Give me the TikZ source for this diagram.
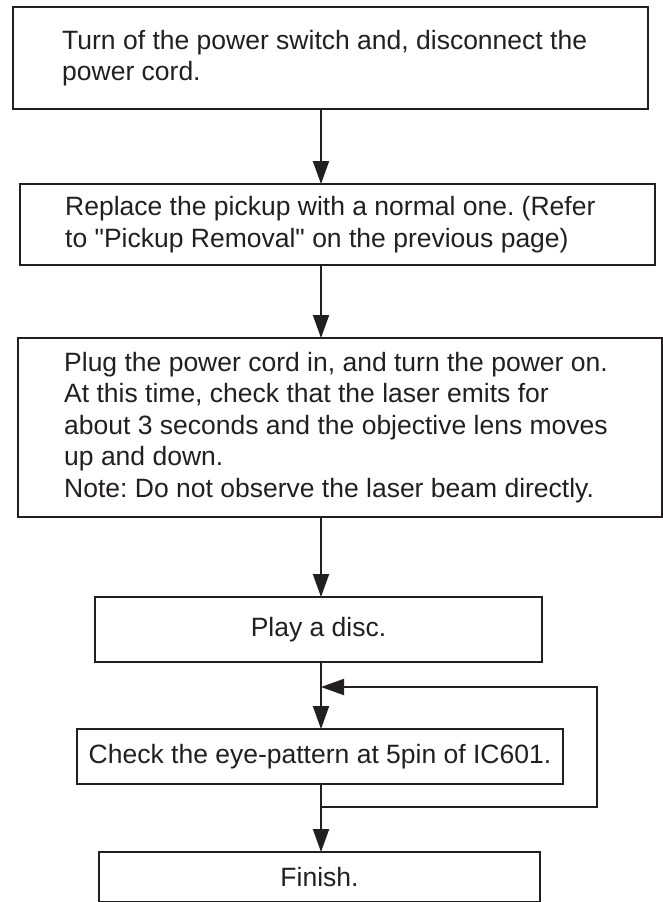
\documentclass[tikz,border=0pt]{standalone}
\usepackage{fontspec}
\newfontfamily\plainsans{Liberation Sans}
\usetikzlibrary{arrows.meta}
\definecolor{ink}{HTML}{231F20}
\frenchspacing
\begin{document}
\begin{tikzpicture}[x=1pt,y=-1pt,
  box/.style={draw=ink, line width=2pt, inner sep=0pt, outer sep=0pt},
  txt/.style={text=ink, align=left, inner sep=0pt, font=\plainsans\fontsize{26.5}{31.5}\selectfont},
  ctxt/.style={box, text=ink, align=center, font=\plainsans\fontsize{26.5}{31.5}\selectfont},
  arr/.style={draw=ink, line width=2pt, -{Triangle[length=23pt,width=16pt]}},
  wire/.style={draw=ink, line width=2pt}]
\useasboundingbox (0,0) rectangle (663,902);
% boxes
\node[box, minimum width=635pt, minimum height=102pt] (b1) at (330.5,58) {};
\node[box, minimum width=635pt, minimum height=81pt] (b2) at (337.5,224.5) {};
\node[box, minimum width=644pt, minimum height=179pt] (b3) at (340,427.5) {};
\node[ctxt, minimum width=447pt, minimum height=65pt] (b4) at (318.5,629.5) {Play a disc.};
\node[ctxt, minimum width=486pt, minimum height=55pt] (b5) at (320,756.5) {Check the eye-pattern at 5pin of IC601.};
\node[ctxt, minimum width=441pt, minimum height=50pt] (b6) at (319.5,877) {Finish.};
% texts of the large boxes
\node[txt, anchor=west] (t1) at ([xshift=49pt]b1.west) {Turn of the power switch and, disconnect the\\power cord.};
\node[txt, anchor=west] (t2) at ([xshift=45pt]b2.west) {Replace the pickup with a normal one. (Refer\\to "Pickup Removal" on the previous page)};
\node[txt, anchor=west] (t3) at ([xshift=46pt]b3.west) {Plug the power cord in, and turn the power on.\\At this time, check that the laser emits for\\about 3 seconds and the objective lens moves\\up and down.\\Note: Do not observe the laser beam directly.};
% connectors
\coordinate (axis) at (321,0);
\draw[arr] (axis |- b1.south) -- (axis |- b2.north);
\draw[arr] (axis |- b2.south) -- (axis |- b3.north);
\draw[arr] (axis |- b3.south) -- (axis |- b4.north);
\draw[arr] (axis |- b4.south) -- (axis |- b5.north);
\draw[arr] (axis |- b5.south) -- (axis |- b6.north);
\coordinate (j1) at (321,807);
\coordinate (l1) at (597,807);
\coordinate (l2) at (597,687);
\coordinate (j2) at (321,687);
\draw[arr] (j1) -- (l1) -- (l2) -- (j2);
\end{tikzpicture}
\end{document}
